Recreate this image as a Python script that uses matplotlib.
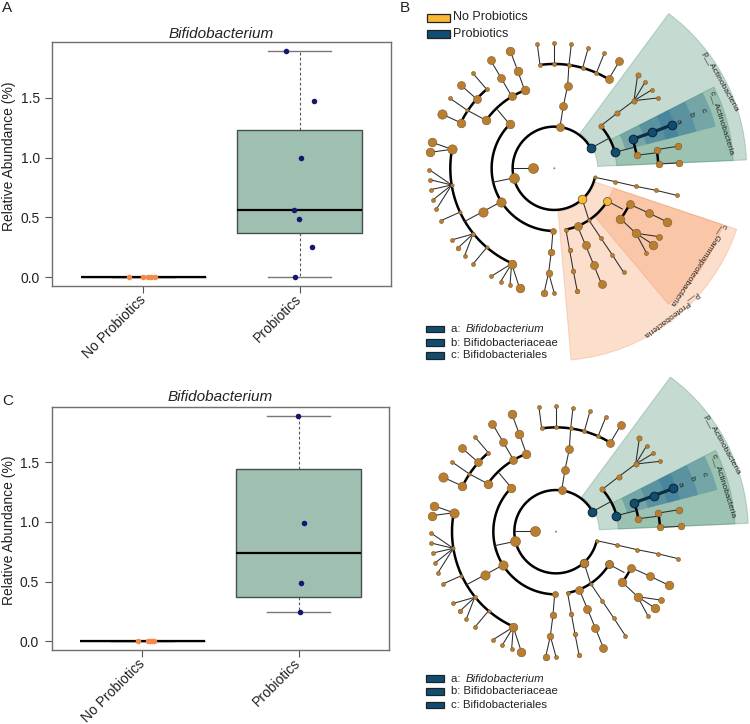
import numpy as np
import matplotlib
matplotlib.use('Agg')
import matplotlib.pyplot as plt
from matplotlib.patches import Wedge, Rectangle

plt.rcParams['font.family'] = ['Liberation Sans', 'DejaVu Sans']

W, H = 750, 724

groups = ['No Probiotics', 'Probiotics']
yticks = [0.0, 0.5, 1.0, 1.5]

# panel A values, with jitter positions
a_none_x = [0.91, 1.0, 1.032, 1.05, 1.077]
a_none_y = [0, 0, 0, 0, 0]
a_prob_x = [1.972, 2.079, 1.994, 1.962, 2.009, 2.094, 1.913]
a_prob_y = [0, 0.25, 0.485, 0.565, 0.994, 1.474, 1.891]

# panel C values
c_none_x = [0.972, 1.036, 1.047, 1.06, 1.072]
c_none_y = [0, 0, 0, 0, 0]
c_prob_x = [2.009, 2.015, 2.034, 1.998]
c_prob_y = [0.249, 0.486, 0.994, 1.89]

# cladogram, in units of 1/3 px, y up, relative to the root
root_r = 3
big = 15
mid = 12
sml = 6
tiny = 5

def p(x, y):
    # reads were taken from the 3x crop, root at (468, 485)
    return (x - 468, 485 - y)

# arcs: radius, from angle, to angle
thick_arcs = [
    (125, 29, 347.5),
    (188, 135.4, 268.8),
    (187, 280.7, 328.4),
    (188, 14.9, 42.4),
    (313, 58.6, 97.9),
    (250, 110.8, 144.9),
    (312, 130.6, 154),
    (312, 169.5, 245.9),
    (250, -37.3, -25.5),
    (250, 9, 20.3),
    (312, 2.4, 10.3),
]

thin_edges = [
    [(346, 484), (405, 484)],
    [(346, 514), (283, 527)],
    [(577, 425), (632, 395)],
    [(607, 358), (656, 320), (707, 282)],
    [(707, 282), (718, 205)], [(707, 282), (740, 227)],
    [(707, 282), (760, 250)], [(707, 282), (779, 274)],
    [(649, 437), (708, 422)],
    [(715, 446), (778, 438)],
    [(775, 429), (838, 419)],
    [(781, 472), (843, 469)],
    [(485, 361), (495, 299), (508, 237), (512, 175)],
    [(425, 175), (417, 112)], [(468, 172), (468, 108)],
    [(512, 175), (519, 113)], [(553, 184), (570, 123)],
    [(594, 199), (618, 140)], [(631, 218), (663, 164)],
    [(334, 353), (298, 310)],
    [(379, 251), (358, 192), (336, 133)],
    [(340, 269), (309, 215), (277, 161)],
    [(263, 341), (207, 311), (155, 275)],
    [(235, 277), (187, 235)], [(265, 248), (224, 200)],
    [(187, 348), (130, 322)],
    [(309, 585), (254, 615), (198, 645)],
    [(161, 428), (101, 407)], [(161, 428), (96, 437)],
    [(160, 535), (93, 489)], [(160, 535), (94, 519)],
    [(160, 535), (98, 549)], [(160, 535), (105, 579)],
    [(160, 535), (114, 608)],
    [(184, 617), (128, 642)],
    [(224, 682), (160, 700)], [(224, 682), (179, 724)],
    [(224, 682), (199, 747)],
    [(266, 722), (225, 771)],
    [(340, 771), (279, 809)], [(340, 771), (307, 825)],
    [(340, 771), (335, 836)], [(340, 771), (364, 845)],
    [(464, 672), (459, 735), (451, 798)],
    [(451, 798), (437, 860)], [(451, 798), (468, 860)],
    [(552, 578), (572, 641)],
    [(503, 670), (514, 731), (525, 792), (537, 854)],
    [(538, 659), (562, 716), (586, 774), (610, 833)],
    [(572, 641), (607, 693), (642, 745), (676, 797)],
    [(627, 583), (672, 607)],
    [(694, 593), (751, 619), (807, 646)],
    [(666, 636), (713, 680)],
    [(713, 680), (782, 690)], [(713, 680), (765, 714)], [(713, 680), (744, 738)],
    [(590, 512), (651, 525), (712, 539), (773, 551), (835, 566)],
]
blue_edges = [[(703, 398), (762, 377), (820, 355)]]

brown_nodes = [
    (485, 361, mid), (405, 484, big), (346, 514, big), (590, 512, tiny),
    (607, 358, sml + 2), (656, 320, sml + 2), (707, 282, sml + 2),
    (718, 205, sml + 2), (740, 227, tiny + 1), (760, 250, tiny + 1), (779, 274, tiny + 1),
    (715, 446, mid - 2), (775, 429, mid - 2), (781, 472, mid - 2), (838, 419, mid - 2), (843, 469, mid - 2),
    (495, 299, mid), (508, 237, mid), (512, 175, sml), (425, 175, sml), (468, 172, sml), (553, 184, sml),
    (594, 199, sml), (631, 218, mid), (417, 112, sml), (468, 108, sml), (519, 113, sml), (570, 123, sml),
    (618, 140, sml), (663, 164, mid), (334, 353, mid + 1), (379, 251, mid + 1), (358, 192, mid + 1),
    (336, 133, mid + 1), (340, 269, mid), (309, 215, mid), (277, 161, mid), (263, 341, mid + 1),
    (207, 311, tiny), (155, 275, tiny + 1), (235, 277, mid), (187, 235, mid), (265, 248, tiny + 1),
    (224, 200, tiny + 1), (187, 348, mid + 1), (130, 322, big - 1), (309, 585, big - 1), (254, 615, big - 1),
    (161, 428, big - 1), (101, 407, mid + 1), (96, 437, mid + 1), (160, 535, tiny), (93, 489, tiny + 1),
    (94, 519, tiny + 1), (98, 549, tiny + 1), (105, 579, tiny + 1), (114, 608, tiny + 1), (184, 617, tiny),
    (128, 642, tiny + 1), (224, 682, tiny + 1), (160, 700, tiny + 1), (179, 724, tiny + 2), (199, 747, tiny + 1),
    (266, 722, tiny), (225, 771, tiny + 1), (340, 771, mid + 1), (279, 809, tiny + 1), (307, 825, tiny + 1),
    (335, 836, tiny + 1), (364, 845, mid + 1), (464, 672, sml + 3), (459, 735, sml + 4), (451, 798, sml + 4),
    (437, 860, sml + 4), (468, 860, tiny + 1), (503, 670, tiny + 1), (514, 731, sml + 1), (525, 792, sml + 1),
    (537, 854, sml + 1), (538, 659, mid), (562, 716, mid), (586, 774, mid), (610, 833, mid),
    (572, 641, tiny), (607, 693, tiny + 1), (642, 745, tiny + 1), (676, 797, tiny + 1),
    (694, 593, mid), (751, 619, mid), (807, 646, mid + 1), (666, 636, mid + 1), (713, 680, mid + 1),
    (782, 690, sml + 3), (765, 714, mid + 1), (744, 738, tiny + 1), (651, 525, tiny + 1), (712, 539, tiny + 1),
    (773, 551, tiny + 1), (835, 566, tiny + 1),
]
probiotic_nodes = [(577, 425, mid + 1), (649, 437, mid + 1), (703, 398, mid + 1), (762, 377, mid + 1), (820, 355, mid + 1)]
shift_nodes = [(552, 578, mid + 1), (627, 583, mid)]

# sectors: inner radius, outer radius, from angle, to angle
actino_sectors = [(130, 577, 2.5, 53.5), (187, 537, 2.5, 27)]
biom_sectors = [(220, 500, 14.5, 27), (285, 440, 14.5, 27), (345, 385, 14.5, 27)]
proteo_sectors = [(130, 577, -85, -18.5), (187, 533, -50, -18.5)]

marker_names = ['a: ', 'b: Bifidobacteriaceae', 'c: Bifidobacteriales']

brown = '#b97e30'
blue = '#0f4e72'
yellow = '#f9b934'
txt = '#222222'


def fivenum_stats(vals):
    # R style hinges, the boxes are not numpy percentiles
    s = sorted(vals)
    n = len(s)
    n4 = ((n + 3) // 2) / 2
    idx = [n4 - 1, (n + 1) / 2 - 1, n - n4]
    q = [(s[int(np.floor(i))] + s[int(np.ceil(i))]) / 2 for i in idx]
    return dict(med=q[1], q1=q[0], q3=q[2], whislo=s[0], whishi=s[-1], fliers=[])


def box_panel(rect, none_x, none_y, prob_x, prob_y, ylabel_y, title_pad):
    left, right, top, bottom = rect
    ax = fig.add_axes([left / W, 1 - bottom / H, (right - left) / W, (bottom - top) / H])
    stats = [fivenum_stats(none_y), fivenum_stats(prob_y)]
    ax.bxp(stats, positions=[1, 2], widths=0.8, patch_artist=True, showfliers=False,
           boxprops=dict(facecolor='#9fbfb1', edgecolor='#454f4b', linewidth=1),
           medianprops=dict(color='black', linewidth=1.6, solid_capstyle='butt'),
           whiskerprops=dict(color='#555555', linewidth=0.8, linestyle=(0, (2.5, 2))),
           capprops=dict(color='#777777', linewidth=1), capwidths=0.4)
    ax.scatter(none_x, none_y, s=16, color='#f58a4b', linewidths=0, zorder=4)
    ax.scatter(prob_x, prob_y, s=16, color='#15176f', linewidths=0, zorder=4)
    ax.set_xlim(0.418, 2.582)
    ax.set_ylim(-0.075, 1.966)
    ax.set_xticks([1, 2])
    ax.set_xticklabels(groups, rotation=45, ha='right', va='center', rotation_mode='anchor',
                       fontsize=10, color=txt)
    ax.set_yticks(yticks)
    ax.set_yticklabels(['%.1f' % v for v in yticks], fontsize=10, color=txt)
    ax.tick_params(length=5, width=0.8, color='#555555', pad=4)
    ax.tick_params(axis='x', pad=3)
    ax.set_ylabel('Relative Abundance (%)', fontsize=10, color=txt, labelpad=3, y=ylabel_y)
    ax.set_title('Bifidobacterium', fontsize=11, style='italic', color=txt, pad=title_pad)
    for s in ax.spines.values():
        s.set_color('#6f6f6f')
        s.set_linewidth(1)
    return ax


def cladogram(cx, cy, proteo):
    ax = fig.add_axes([(cx - 200) / W, 1 - (cy + 200) / H, 400 / W, 400 / H])
    ax.set_xlim(-600, 600)
    ax.set_ylim(-600, 600)
    ax.axis('off')
    ax.patch.set_visible(False)

    for r0, r1, t0, t1 in actino_sectors:
        ax.add_patch(Wedge((0, 0), r1, t0, t1, width=r1 - r0, facecolor='#3f8a68', edgecolor='#3f8a68',
                           alpha=0.3, linewidth=0.8, zorder=1))
    for r0, r1, t0, t1 in biom_sectors:
        ax.add_patch(Wedge((0, 0), r1, t0, t1, width=r1 - r0, facecolor='#2a6f95', edgecolor='none',
                           alpha=0.35, zorder=1))
    if proteo:
        for r0, r1, t0, t1 in proteo_sectors:
            ax.add_patch(Wedge((0, 0), r1, t0, t1, width=r1 - r0, facecolor='#f58a4b', edgecolor='#f58a4b',
                               alpha=0.28, linewidth=0.8, zorder=1))

    for r, t0, t1 in thick_arcs:
        t = np.radians(np.linspace(t0, t1, 200))
        ax.plot(r * np.cos(t), r * np.sin(t), color='black', lw=1.8, zorder=3, solid_capstyle='round')
    for edge in thin_edges:
        xy = np.array([p(*e) for e in edge])
        ax.plot(xy[:, 0], xy[:, 1], color='#2b2b2b', lw=0.75, zorder=3)
    for edge in blue_edges:
        xy = np.array([p(*e) for e in edge])
        ax.plot(xy[:, 0], xy[:, 1], color='#0b2f45', lw=2.3, zorder=3)

    def nodes(data, color, ec, lw=0.4):
        for x, y, r in data:
            px, py = p(x, y)
            # radius in 1/3 px -> marker area in points
            d = 2 * r / 3 * 0.72
            ax.scatter([px], [py], s=d ** 2, color=color, edgecolors=ec, linewidths=lw, zorder=4)

    nodes(brown_nodes, brown, '#7d5a2a')
    nodes(probiotic_nodes, blue, '#10202b', 0.7)
    nodes(shift_nodes, yellow if proteo else brown, '#5e4a1e' if proteo else '#5a4a2a', 0.5)
    nodes([(468, 485, root_r)], brown, 'none', 0)

    lab = dict(fontsize=6, color=txt, ha='center', va='center', rotation_mode='anchor', zorder=6)
    ax.text(*p(965, 225), 'p__Actinobacteria', rotation=-61, **lab)
    ax.text(*p(972, 349), 'c__Actinobacteria', rotation=-72.5, **lab)
    ax.text(*p(838, 344), 'a', rotation=-70, **lab)
    ax.text(*p(876, 325), 'b', rotation=-70, **lab)
    ax.text(*p(912, 312), 'c', rotation=-70, **lab)
    if proteo:
        ax.text(*p(817, 923), 'p__Proteobacteria', rotation=217, **lab)
        ax.text(*p(897, 775), 'c__Gammaproteobacteria', rotation=236.5, **lab)
    return ax


def key(x, y, color, label, fs=8.2, italic=None):
    h = 8 if fs > 8.2 else 6.6
    w = 23 if fs > 8.2 else 18.5
    pix.add_patch(Rectangle((x, y - h / 2), w, h, facecolor=color, edgecolor='#222222', linewidth=0.9))
    tx = x + w + (3 if fs > 8.2 else 7)
    t = pix.text(tx, y, label, fontsize=fs, color=txt, va='center', ha='left')
    if italic:
        bb = t.get_window_extent(fig.canvas.get_renderer())
        pix.text(tx + bb.width + 2, y, italic, fontsize=fs, style='italic', color=txt, va='center', ha='left')


fig = plt.figure(figsize=(W / 100, H / 100), dpi=100)

box_panel((52.3, 390.7, 42, 286.3), a_none_x, a_none_y, a_prob_x, a_prob_y, 0.531, 3)
box_panel((51.7, 389.3, 406.7, 650.3), c_none_x, c_none_y, c_prob_x, c_prob_y, 0.494, 4)

cladogram(554.3, 168.3, True)
cladogram(556, 531.7, False)

# pixel overlay for the legends and panel letters
pix = fig.add_axes([0, 0, 1, 1])
pix.set_xlim(0, W)
pix.set_ylim(H, 0)
pix.axis('off')
pix.patch.set_visible(False)

pix.text(2, 8, 'A', fontsize=11, color=txt, va='center')
pix.text(400, 8, 'B', fontsize=11, color=txt, va='center')
pix.text(2, 401, 'C', fontsize=11, color=txt, va='center')

key(427, 17.5, yellow, 'No Probiotics', fs=9)
key(427, 34, blue, 'Probiotics', fs=9)

for ys in ((329, 342.5, 355.5), (678.5, 691.5, 705)):
    key(425.7, ys[0], blue, marker_names[0], italic='Bifidobacterium')
    key(425.7, ys[1], blue, marker_names[1])
    key(425.7, ys[2], blue, marker_names[2])

fig.savefig('out.png', dpi=100)
